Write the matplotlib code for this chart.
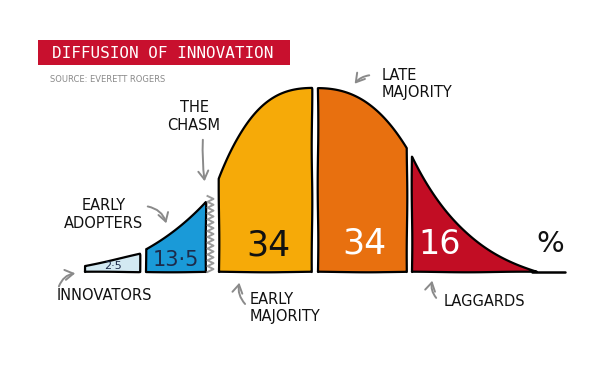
import matplotlib
matplotlib.use("Agg")
import matplotlib.pyplot as plt
import numpy as np
from matplotlib.patches import Rectangle, FancyArrowPatch

# Segment data (x position along the chart, curve height above baseline)
segment_names = ["INNOVATORS", "EARLY\nADOPTERS", "EARLY\nMAJORITY", "LATE\nMAJORITY", "LAGGARDS"]
segment_shares = ["2·5", "13·5", "34", "34", "16"]
segment_colors = ["#d3e9f2", "#1a9ad8", "#f6aa08", "#e8700f", "#c20d24"]
share_colors = ["#1d2b4a", "#1d2b4a", "#111111", "#ffffff", "#ffffff"]

innovators_x = [85, 140]
innovators_h = [6, 18]
adopters_x = [146, 163, 180, 197, 206]
adopters_h = [23, 33, 46, 60, 70]
early_maj_x = [219, 226, 233, 250, 267, 287, 312]
early_maj_h = [95, 108, 125, 155, 170, 180, 184]
late_maj_x = [318, 333, 360, 383, 400, 407]
late_maj_h = [184, 182, 174, 155, 135, 124]
laggards_x = [412, 427, 443, 460, 483, 507, 527, 537]
laggards_h = [115, 89, 65, 45, 25, 12, 4, 0]

curves = [
    (innovators_x, innovators_h),
    (adopters_x, adopters_h),
    (early_maj_x, early_maj_h),
    (late_maj_x, late_maj_h),
    (laggards_x, laggards_h),
]


def smooth_curve(xs, hs, n=80):
    """Smooth line through the read points (low-order polynomial fit)."""
    deg = min(3, len(xs) - 1)
    coef = np.polyfit(xs, hs, deg)
    gx = np.linspace(xs[0], xs[-1], n)
    gy = np.clip(np.polyval(coef, gx), 0, None)
    return gx, gy


plt.rcParams["font.family"] = ["DejaVu Sans"]

fig = plt.figure(figsize=(6, 3.7), dpi=100)
ax = fig.add_axes([0, 0, 1, 1])
ax.set_xlim(0, 600)
ax.set_ylim(-98, 272)
ax.axis("off")

# filled segments under the curve
for (xs, hs), col in zip(curves, segment_colors):
    gx, gy = smooth_curve(xs, hs)
    px = np.concatenate([[gx[0]], gx, [gx[-1]]])
    py = np.concatenate([[0], gy, [0]])
    poly = ax.fill(px, py, facecolor=col, edgecolor="black", lw=1.6,
                   joinstyle="round")[0]
    poly.set_sketch_params(0.3, 120, 1.5)

# tail of the curve running out to the right
tail = ax.plot([laggards_x[-1] - 5, 565], [0, 0], color="black", lw=1.8,
               solid_capstyle="round")[0]

# the chasm: grey zigzag between early adopters and early majority
zz_y = np.linspace(0, 76, 27)
zz_x = 210.5 + np.where(np.arange(len(zz_y)) % 2 == 0, -3, 3)
ax.plot(zz_x, zz_y, color="#9a9a9a", lw=1.4)

# share numbers inside each segment
share_pos = [(113, 6), (176, 12), (268, 27), (364, 28), (440, 27)]
share_size = [8, 15, 25, 25, 24]
for txt, (sx, sy), sz, c in zip(segment_shares, share_pos, share_size, share_colors):
    ax.text(sx, sy, txt, ha="center", va="center", fontsize=sz, color=c)
ax.text(550, 28, "%", ha="center", va="center", fontsize=21, color="#111111")

# labels
label_kw = dict(fontsize=10.5, color="#111111", linespacing=1.25)
ax.text(104, 57, segment_names[1], ha="center", va="center", **label_kw)
ax.text(57, -24, segment_names[0], ha="left", va="center", **label_kw)
ax.text(250, -36, segment_names[2], ha="left", va="center", **label_kw)
ax.text(382, 188, segment_names[3], ha="left", va="center", **label_kw)
ax.text(444, -29, segment_names[4], ha="left", va="center", **label_kw)
ax.text(194, 156, "THE\nCHASM", ha="center", va="center", **label_kw)

# curved grey arrows with open heads
arrow_kw = dict(arrowstyle="->,head_length=5,head_width=3", color="#8a8a8a",
                lw=1.4, mutation_scale=1.2, capstyle="round")
arrows = [
    ((145, 66), (167, 46), "arc3,rad=-0.35"),   # early adopters
    ((58, -17), (78, -1), "arc3,rad=-0.35"),    # innovators
    ((203, 135), (205, 88), "arc3,rad=0.05"),   # chasm
    ((247, -34), (240, -8), "arc3,rad=-0.3"),   # early majority
    ((372, 197), (353, 186), "arc3,rad=0.25"),  # late majority
    ((438, -28), (433, -6), "arc3,rad=-0.3"),   # laggards
]
for start, end, cs in arrows:
    ax.add_patch(FancyArrowPatch(start, end, connectionstyle=cs, **arrow_kw))

# title bar
fig.patches.append(Rectangle((38 / 600, 1 - 65 / 370), 252 / 600, 25 / 370,
                             transform=fig.transFigure, facecolor="#c8102e",
                             edgecolor="none"))
fig.text(52 / 600, 1 - 53 / 370, "DIFFUSION OF INNOVATION", color="white",
         fontsize=11.5, va="center", ha="left", family="DejaVu Sans Mono")
fig.text(50 / 600, 1 - 80 / 370, "SOURCE: EVERETT ROGERS", color="#8a8a8a",
         fontsize=6, va="center", ha="left")

fig.savefig("out.png", dpi=100)
